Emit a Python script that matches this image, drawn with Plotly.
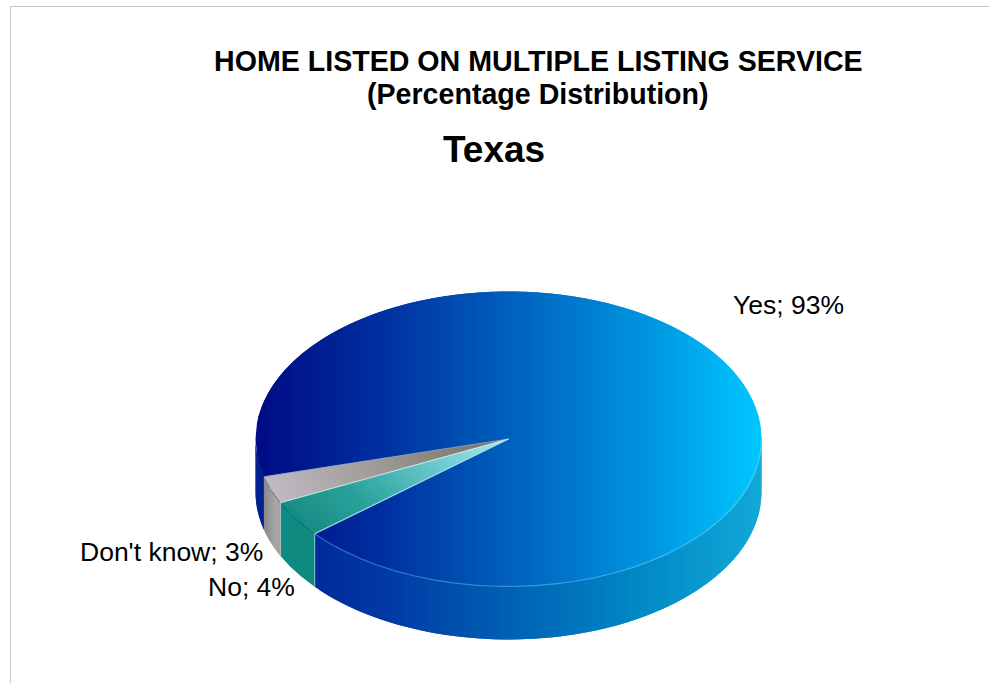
import numpy as np
import plotly.graph_objects as go

labels = ["Yes", "No", "Don't know"]
values = [93, 4, 3]
label_text = ["Yes; 93%", "No; 4%", "Don't know; 3%"]
title_lines = ["HOME LISTED ON MULTIPLE LISTING SERVICE", "(Percentage Distribution)"]
subtitle = "Texas"

W, H = 989, 683
CX, CY = 508.5, 439.0   # centre of the pie's top face, pixels
RX = 253.0              # radius in pixels; one data unit on both axes
TILT = 147.5 / RX       # vertical squash of the circle
DEPTH = 53.0 / RX       # thickness of the pie
ROT0 = 220.0            # where Yes starts, degrees, counter-clockwise


def hx(c):
    return np.array([int(c[i:i + 2], 16) for i in (1, 3, 5)], float)


def ramp(t, stops):
    t = float(np.clip(t, 0, 1))
    xs = [s[0] for s in stops]
    v = [np.interp(t, xs, [hx(s[1])[k] for s in stops]) for k in range(3)]
    return "rgb(%d,%d,%d)" % tuple(round(a) for a in v)


TOP_BLUE = [(0, "#000b84"), (0.25, "#0030a0"), (0.5, "#0060bc"), (0.75, "#0090dc"), (1, "#00c8ff")]
SIDE_BLUE = [(0, "#001f90"), (0.25, "#0038a4"), (0.5, "#0060b4"), (0.75, "#0088c4"), (1, "#12a8d8")]
RIM_BLUE = [(0, "#2a5cb8"), (0.5, "#3a90d8"), (1, "#40d0ff")]
GRAY_TOP = [(0, "#6f6f62"), (0.5, "#9a9690"), (1, "#c0bac2")]
TEAL_TOP = [(0, "#b0e8ee"), (0.35, "#68c8cc"), (0.7, "#2ba39c"), (1, "#178c84")]
GRAY_SIDE = [(0, "#7e7e7e"), (0.5, "#a8a8a8"), (1, "#8a8a8a")]
TEAL_SIDE = "#0f8a80"

fig = go.Figure()


def poly(xs, ys, color):
    fig.add_trace(go.Scatter(x=xs, y=ys, mode="lines", fill="toself", fillcolor=color,
                             line=dict(width=0), hoverinfo="skip", showlegend=False))


def line(xs, ys, color, width=1.0):
    fig.add_trace(go.Scatter(x=xs, y=ys, mode="lines", line=dict(color=color, width=width),
                             hoverinfo="skip", showlegend=False))


def rim(a_deg):
    a = np.radians(a_deg)
    return np.cos(a), TILT * np.sin(a)


def wall(a0, a1, colorfn, step=1.5):
    # Painted in order; each strip runs under the next to leave no seam.
    n = max(1, int(round(abs(a1 - a0) / step)))
    e = np.linspace(a0, a1, n + 1)
    d = e[1] - e[0]
    for a, b in zip(e[:-1], e[1:]):
        x, y = rim(np.linspace(a, min(b + d, a1), 4))
        poly(np.r_[x, x[::-1]], np.r_[y, y[::-1] - DEPTH], colorfn((rim(a)[0] + rim(b)[0]) / 2))


def top_columns(colorstops, cols=170):
    e = np.linspace(-1, 1, cols + 1)
    d = e[1] - e[0]
    for a, b in zip(e[:-1], e[1:]):
        x = np.linspace(a, min(b + d, 1), 5)
        h = TILT * np.sqrt(np.clip(1 - x ** 2, 0, 1))
        poly(np.r_[x, x[::-1]], np.r_[h, -h[::-1]], ramp((a + b + 2) / 4, colorstops))


def wedge(a0, a1, stops, bands=40):
    e = np.linspace(0, 1, bands + 1)
    d = e[1] - e[0]
    th = np.linspace(a0, a1, 12)
    cx, cy = rim(th)
    for r0, r1 in zip(e[:-1][::-1], e[1:][::-1]):  # outside in
        inner = max(r0 - d, 0)
        poly(np.r_[r1 * cx, inner * cx[::-1]], np.r_[r1 * cy, inner * cy[::-1]], ramp((r0 + r1) / 2, stops))


degrees = np.array(values, float) / sum(values) * 360
a_yes1 = ROT0 + degrees[0]           # Yes sweeps over the right and back, then Don't know, then No
a_dk1 = a_yes1 + degrees[2]
a_no1 = a_dk1 + degrees[1]

# Side walls: only the front half of the cylinder can be seen.
side_yes = lambda x: ramp((x + 1) / 2, SIDE_BLUE)
wall(ROT0, 360, side_yes)
wall(180, a_yes1 - 360, side_yes)
wall(a_yes1 - 360, a_dk1 - 360, lambda x: ramp((x + 0.98) / 0.12, GRAY_SIDE), step=1)
wall(a_dk1 - 360, a_no1 - 360, lambda x: TEAL_SIDE, step=20)

# Top face: the blue disc, then the two small slices over it.
top_columns(TOP_BLUE)
wedge(a_yes1, a_dk1, GRAY_TOP)
wedge(a_dk1, a_no1, TEAL_TOP)

# Light edge along the front of the top face.
e = np.linspace(ROT0, 360, 31)
for a, b in zip(e[:-1], e[1:]):
    x, y = rim(np.linspace(a, b, 4))
    line(x, y, ramp((x.mean() + 1) / 2, RIM_BLUE), 1.2)

# Light seams between slices.
for ang, col, wd in [(a_yes1, "#8fa0c8", 0.8), (a_dk1, "#d0e6ea", 1.2), (a_no1, "#a5dcec", 1.2)]:
    x, y = rim(ang)
    line([0, x], [0, y], col, wd)
for ang, col in [(a_dk1, "#c4c4c4"), (a_no1, "#7fc8c8")]:
    x, y = rim(ang)
    line([x, x], [y, y - DEPTH], col, 1)

fig.update_layout(
    width=W, height=H, margin=dict(l=0, r=0, t=0, b=0),
    paper_bgcolor="white", plot_bgcolor="rgba(0,0,0,0)",
    showlegend=False, hovermode=False, dragmode=False,
    font=dict(family="Liberation Sans", color="black"),
    xaxis=dict(visible=False, range=[-CX / RX, (W - CX) / RX], fixedrange=True),
    yaxis=dict(visible=False, range=[-(H - CY) / RX, CY / RX], fixedrange=True),
    shapes=[
        dict(type="line", xref="paper", yref="paper", x0=10.5 / W, x1=1, y0=1 - 6.5 / H, y1=1 - 6.5 / H,
             line=dict(color="#c8c8c8", width=1)),
        dict(type="line", xref="paper", yref="paper", x0=10.5 / W, x1=10.5 / W, y0=1 - 6.5 / H, y1=0,
             line=dict(color="#c8c8c8", width=1)),
    ],
)


def note(text, x, y, size, bold=False):
    fig.add_annotation(text=f"<b>{text}</b>" if bold else text, xref="paper", yref="paper",
                       x=x / W, y=1 - y / H, xanchor="center", yanchor="middle",
                       showarrow=False, font=dict(size=size, family="Liberation Sans", color="black"))


note(title_lines[0], 538, 61, 28.6, True)
note(title_lines[1], 537.5, 94, 28.6, True)
note(subtitle, 494, 150, 37, True)
note(label_text[0], 788.5, 305, 26.5)
note(label_text[2], 171.5, 552, 26.5)
note(label_text[1], 251.5, 587, 26.5)

fig.write_html("out.html", config=dict(displayModeBar=False, staticPlot=True),
               post_script="document.body.style.margin='0';document.body.style.overflow='hidden';")
